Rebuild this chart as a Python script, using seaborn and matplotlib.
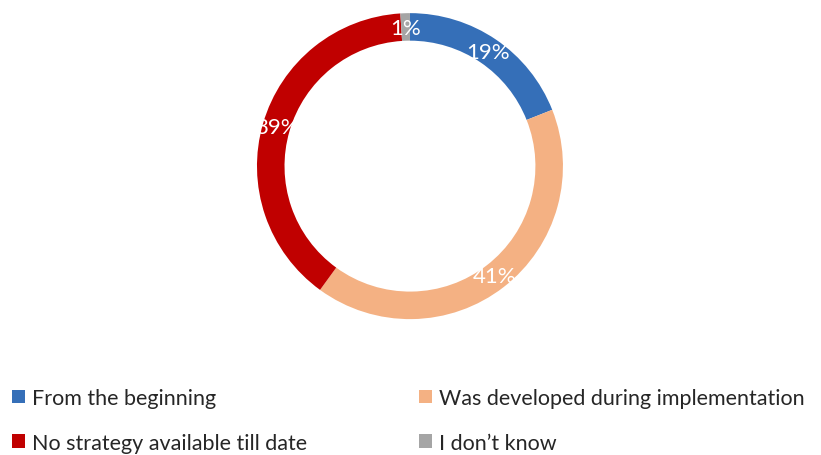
import matplotlib
matplotlib.use("Agg")
import matplotlib.pyplot as plt
import seaborn as sns

# ==============================
# Data
# ==============================
categories = ["From the beginning", "Was developed during implementation",
              "No strategy available till date", "I don\u2019t know"]
shares = [19, 41, 39, 1]
colors = ["#356FB8", "#F4B183", "#C00000", "#A5A5A5"]
legend_order = [0, 2, 1, 3]  # row-wise like the original

sns.set_theme(style="white")
plt.rcParams['font.family'] = ['Lato', 'DejaVu Sans']

fig = plt.figure(figsize=(8.21, 4.56), dpi=100)
ax = fig.add_axes([0.313, 0.298, 0.3727, 0.671])

wedges, texts, autotexts = ax.pie(
    shares, colors=colors, startangle=90, counterclock=False,
    autopct=lambda p: f"{p:.0f}%", pctdistance=0.905,
    wedgeprops=dict(width=0.18, edgecolor="none"),
    textprops=dict(color="white", fontsize=16),
)
ax.set_xlim(-1, 1)
ax.set_ylim(-1, 1)
ax.set_aspect("equal")
ax.axis("off")

fig.legend([wedges[i] for i in legend_order], [categories[i] for i in legend_order],
           loc="upper left", bbox_to_anchor=(0.0146, 0.147),
           ncol=2, frameon=False, fontsize=15.5, handlelength=0.6, handleheight=0.6,
           handletextpad=0.35, columnspacing=5.16, labelspacing=1.14,
           borderaxespad=0, borderpad=0)

fig.savefig("out.png", dpi=100)
